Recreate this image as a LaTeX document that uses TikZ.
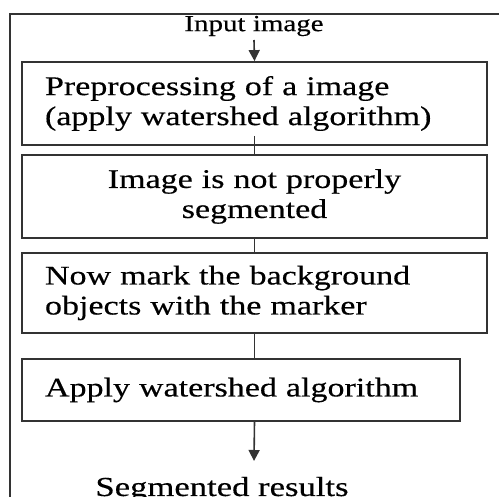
\documentclass[tikz,border=0pt]{standalone}
\usepackage{fontspec}
\setmainfont{Liberation Serif}[FakeStretch=1.26, FakeBold=0.4]
\usetikzlibrary{arrows.meta}

\begin{document}
\begin{tikzpicture}[x=1pt,y=-1pt,
stagebox/.style={draw=black!80, line width=1.8pt, inner xsep=23pt, inner ysep=0pt,
  font=\fontsize{27}{30}\selectfont},
flow/.style={draw=black!80, line width=1.6pt},
flowarrow/.style={flow, -{Triangle[length=11pt,width=11pt]}}]

\useasboundingbox (0,0) rectangle (499,497);

% outer frame
\draw[flow, line width=1.8pt] (10,497) -- (10,14) -- (499,14);

\node (input) at (254,26) {\fontsize{23}{25}\selectfont Input image};

\node[stagebox, text width=419pt, minimum height=83pt, align=left] (pre) at (254.5,103.5)
  {Preprocessing of a image\\(apply watershed algorithm)};
\node[stagebox, text width=419pt, minimum height=83pt, align=center] (notseg) at (254.5,196.5)
  {Image is not properly\\segmented};
\node[stagebox, text width=419pt, minimum height=80pt, align=left] (mark) at (254.5,293)
  {Now mark the background\\objects with the marker};
\node[stagebox, text width=392pt, minimum height=62pt, align=left] (apply) at (241,390)
  {Apply watershed algorithm};

\node[anchor=base] (result) at (222,496) {\fontsize{27.5}{30}\selectfont Segmented results};

\coordinate (top) at (254,40);
\coordinate (bottom) at (254,461);

\draw[flowarrow] (top) -- (pre.north);
\draw[flow] ([yshift=10pt]pre.south) -- (notseg.north);
\draw[flow] (notseg.south) -- (mark.north);
\draw[flow] (mark.south -| pre.south) -- (apply.north -| pre.south);
\draw[flowarrow] (apply.south -| pre.south) -- (bottom);

\end{tikzpicture}
\end{document}
